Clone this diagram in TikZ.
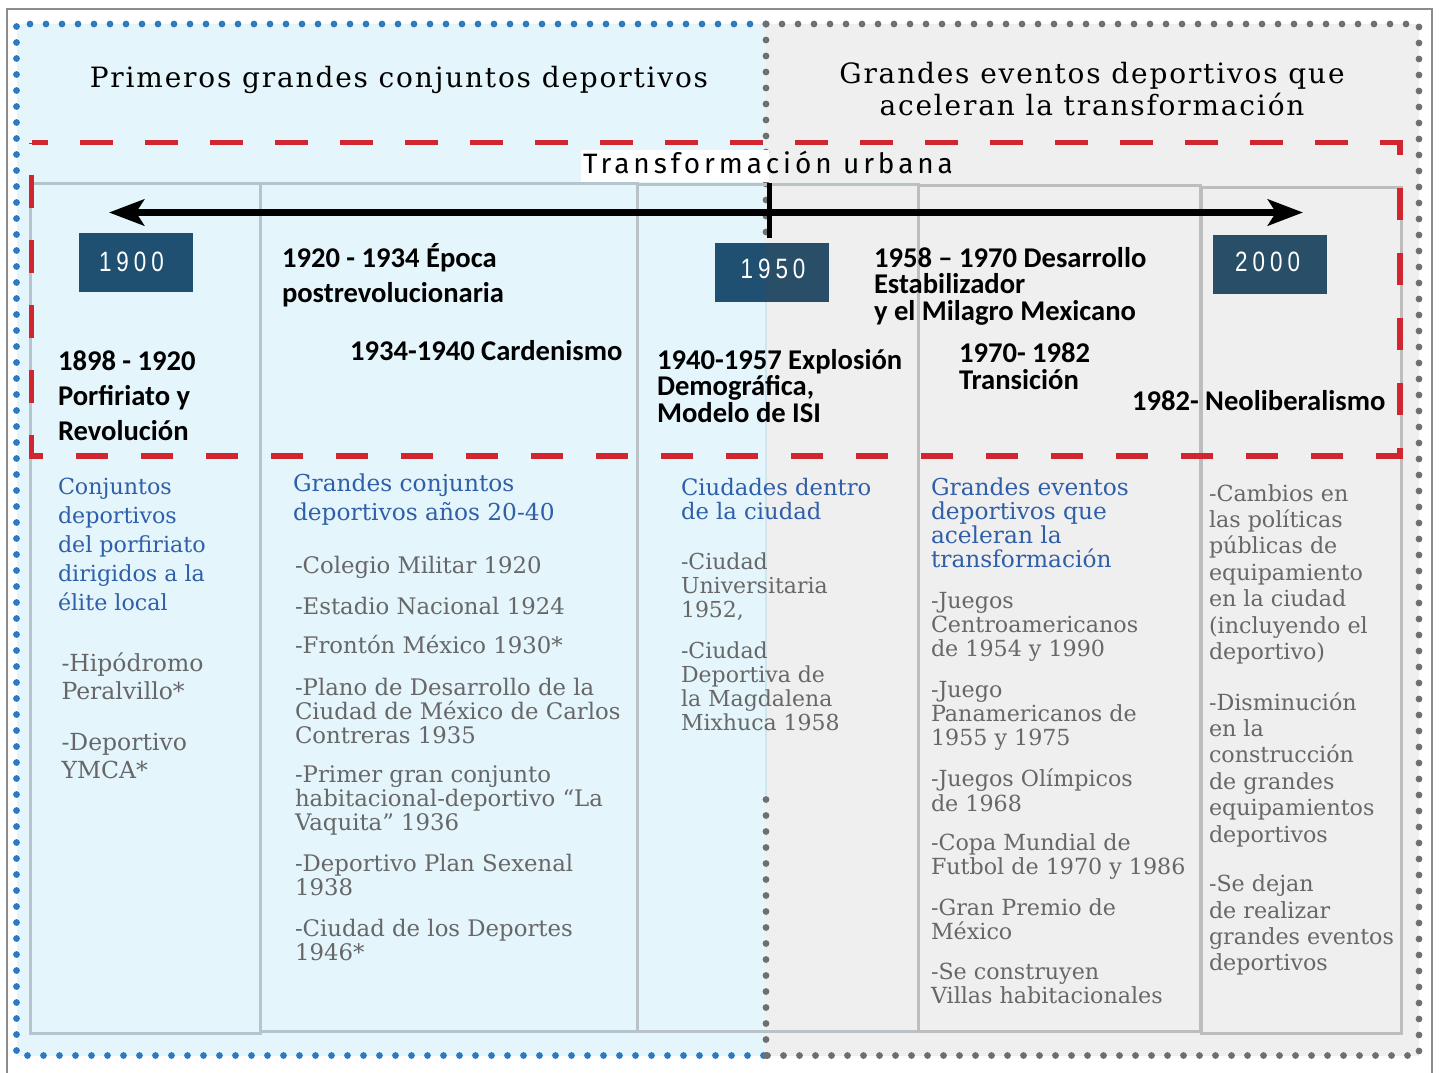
\documentclass[tikz,border=0pt]{standalone}
\usepackage{fontspec}
\usetikzlibrary{arrows.meta}
\newfontfamily\bodyfont{DejaVu Serif}
\newfontfamily\hdrfont[LetterSpace=6.5]{DejaVu Serif}
\newfontfamily\tufont[LetterSpace=14]{Fira Sans}
\newfontfamily\yrfont[FakeStretch=0.8,LetterSpace=18]{Liberation Sans}
\newfontfamily\lblfont{Carlito}
\definecolor{panelblue}{HTML}{E4F5FC}
\definecolor{panelgray}{HTML}{EFEFEF}
\definecolor{dotblue}{HTML}{2E79C0}
\definecolor{dotgray}{HTML}{6F6F6F}
\definecolor{framegray}{HTML}{8C8C8C}
\definecolor{colblue}{HTML}{B4C5CD}
\definecolor{colmix}{HTML}{B9C2C6}
\definecolor{colgray}{HTML}{BDBDBD}
\definecolor{reddash}{HTML}{D1262F}
\definecolor{yearblue}{HTML}{1F5071}
\definecolor{yeargray}{HTML}{294E68}
\definecolor{headblue}{HTML}{2E5FA8}
\definecolor{bodygray}{HTML}{676767}
\definecolor{faintline}{HTML}{D3E5EC}
\newcommand\TL[1]{\vtop{\lineskiplimit=-1000pt\lineskip=0pt\halign{##\hfil\cr#1\crcr}}}
\newcommand\TC[1]{\vtop{\lineskiplimit=-1000pt\lineskip=0pt\halign{\hfil##\hfil\cr#1\crcr}}}
\tikzset{
  frame/.style={draw=framegray, line width=1pt},
  dotsblue/.style={draw=dotblue, line width=3.4pt, line cap=round, dash pattern=on 0pt off 8pt},
  dotsgray/.style={draw=dotgray, line width=3.4pt, line cap=round, dash pattern=on 0pt off 8pt},
  colb/.style={draw=colblue, line width=1.5pt},
  colm/.style={draw=colmix, line width=1.5pt},
  colg/.style={draw=colgray, line width=1.5pt},
  reddashed/.style={draw=reddash, line width=2.75pt, dash pattern=on 16.25pt off 16.25pt, dash phase=8.125pt},
  timeline/.style={draw=black, line width=3.5pt, {Stealth[length=17.5pt,width=13pt,inset=4pt]}-{Stealth[length=17.5pt,width=13pt,inset=4pt]}},
  ticksty/.style={draw=black, line width=2.5pt},
  yearbox/.style={fill=#1, inner sep=0pt, minimum width=57pt, minimum height=29.5pt},
  yeartxt/.style={anchor=base, inner sep=0pt, text=white, font=\yrfont\fontsize{14}{16}\selectfont},
  hdr/.style={anchor=base, inner sep=0pt, font=\hdrfont\fontsize{14}{15.85}\selectfont},
  tulabel/.style={anchor=base, inner sep=0pt, font=\tufont\fontsize{14}{16}\selectfont},
  txt/.style={anchor=base west, inner sep=0pt, outer sep=0pt},
  lbl/.style={txt, font=\lblfont\bfseries\fontsize{14.3}{#1}\selectfont},
  lbl/.default=17.5,
  c1h/.style={txt, text=headblue, font=\bodyfont\fontsize{11.1}{14.55}\selectfont},
  c1b/.style={txt, text=bodygray, font=\bodyfont\fontsize{11.75}{14.15}\selectfont},
  c2h/.style={txt, text=headblue, font=\bodyfont\fontsize{11.65}{14.15}\selectfont},
  c2b/.style={txt, text=bodygray, font=\bodyfont\fontsize{11.4}{12}\selectfont},
  c3h/.style={txt, text=headblue, font=\bodyfont\fontsize{11.35}{12.15}\selectfont},
  c3b/.style={txt, text=bodygray, font=\bodyfont\fontsize{11}{12}\selectfont},
  c4h/.style={txt, text=headblue, font=\bodyfont\fontsize{11.65}{12}\selectfont},
  c4b/.style={txt, text=bodygray, font=\bodyfont\fontsize{11.1}{12.15}\selectfont},
  c5b/.style={txt, text=bodygray, font=\bodyfont\fontsize{11.1}{13.2}\selectfont},
}
\begin{document}
\begin{tikzpicture}[x=0.5pt,y=-0.5pt]
\useasboundingbox (0,0) rectangle (1439,1072);
\clip (0,0) rectangle (1439,1072);
% outer frame and panels
\draw[frame] (6.5,8.5) rectangle (1432,1090);
\fill[panelblue] (16.5,24) rectangle (766,1055.5);
\fill[panelgray] (766,24) rectangle (1419,1055.5);
\draw[faintline, line width=0.75pt] (766,300) -- (766,795);
\draw[dotsblue] (766,24) -- (16.5,24) -- (16.5,1055.5) -- (766,1055.5);
\draw[dotsgray] (766,24) -- (1419,24) -- (1419,1055.5) -- (766,1055.5);
\draw[dotsgray] (766,24) -- (766,240);
\draw[dotsgray] (766,1055.5) -- (766,790);
% columns
\draw[colb] (30,183.5) rectangle (260,1033);
\draw[colb] (260,183.5) rectangle (637,1031.5);
\draw[colm] (637,184) rectangle (918,1031.5);
\draw[colg] (918,185.5) rectangle (1200.5,1031.5);
\draw[colg] (1201.5,187) rectangle (1401,1033);
% headers
\node[hdr] (h1) at (399,87) {Primeros grandes conjuntos deportivos};
\node[hdr] (h2) at (1092,83.5) {\TC{Grandes eventos deportivos que\cr aceleran la transformación}};
% label of the red frame
\fill[white] (581,150) rectangle (769,182);
\node[tulabel] (tu) at (768,173.3) {Transformación urbana};
\draw[reddashed] (31.5,142.5) -- (1400,142.5) -- (1400,456) -- (31.5,456) -- cycle;
% timeline
\coordinate (aL) at (109,212.5);
\coordinate (aR) at (1303,212.5);
\draw[timeline] (aL) -- (aR);
\coordinate (tk1) at (769.5,183);
\coordinate (tk2) at (769.5,238);
\draw[ticksty] (tk1) -- (tk2);
% year boxes
\node[yearbox=yearblue] (b1900) at (135.5,262.2) {};
\node[yearbox=yearblue] (b1950) at (771.5,272.8) {};
\fill[yeargray] (766,243.3) rectangle (828.5,302.3);
\node[yearbox=yeargray] (b2000) at (1270,264.7) {};
\node[yeartxt] (t1900) at (131.5,271.7) {1900};
\node[yeartxt] (t1950) at (773,278) {1950};
\node[yeartxt] (t2000) at (1267.5,271) {2000};
% period labels
\node[lbl=17.65] (p1) at (58,370) {\TL{1898 - 1920\cr Porfiriato y\cr Revolución}};
\node[lbl=17.85] (p2) at (282,267) {\TL{1920 - 1934 Época\cr postrevolucionaria}};
\node[lbl] (p3) at (350,360) {1934-1940 Cardenismo};
\node[lbl=13.3] (p4) at (657,369) {\TL{1940-1957 Explosión\cr Demográfica,\cr Modelo de ISI}};
\node[lbl=13.2] (p5) at (874,267.3) {\TL{1958 – 1970 Desarrollo\cr Estabilizador\cr y el Milagro Mexicano}};
\node[lbl=13.35] (p6) at (959,362.3) {\TL{1970- 1982\cr Transición}};
\node[lbl] (p7) at (1132,410) {1982- Neoliberalismo};
% column 1
\node[c1h] (c1t) at (58,494.3) {\TL{Conjuntos\cr deportivos\cr del porfiriato\cr dirigidos a la\cr élite local}};
\node[c1b] (c1a) at (61.5,671) {\TL{-Hipódromo\cr Peralvillo*}};
\node[c1b] (c1c) at (61.5,750) {\TL{-Deportivo\cr YMCA*}};
% column 2
\node[c2h] (c2t) at (293,491.7) {\TL{Grandes conjuntos\cr deportivos años 20-40}};
\node[c2b] (c2a) at (295,573.3) {-Colegio Militar 1920};
\node[c2b] (c2b) at (295,614.3) {-Estadio Nacional 1924};
\node[c2b] (c2c) at (295,653.3) {-Frontón México 1930*};
\node[c2b] (c2d) at (295,695) {\TL{-Plano de Desarrollo de la\cr Ciudad de México de Carlos\cr Contreras 1935}};
\node[c2b] (c2e) at (295,782.7) {\TL{-Primer gran conjunto\cr habitacional-deportivo “La\cr Vaquita” 1936}};
\node[c2b] (c2f) at (295,871.7) {\TL{-Deportivo Plan Sexenal\cr 1938}};
\node[c2b] (c2g) at (295,936.7) {\TL{-Ciudad de los Deportes\cr 1946*}};
% column 3
\node[c3h] (c3t) at (681,495) {\TL{Ciudades dentro\cr de la ciudad}};
\node[c3b] (c3a) at (681,569.3) {\TL{-Ciudad\cr Universitaria\cr 1952,}};
\node[c3b] (c3b) at (681,658.3) {\TL{-Ciudad\cr Deportiva de\cr la Magdalena\cr Mixhuca 1958}};
% column 4
\node[c4h] (c4t) at (931,495.7) {\TL{Grandes eventos\cr deportivos que\cr aceleran la\cr transformación}};
\node[c4b] (c4a) at (931,608.3) {\TL{-Juegos\cr Centroamericanos\cr de 1954 y 1990}};
\node[c4b] (c4b) at (931,697.3) {\TL{-Juego\cr Panamericanos de\cr 1955 y 1975}};
\node[c4b] (c4c) at (931,786.7) {\TL{-Juegos Olímpicos\cr de 1968}};
\node[c4b] (c4d) at (931,850) {\TL{-Copa Mundial de\cr Futbol de 1970 y 1986}};
\node[c4b] (c4e) at (931,915) {\TL{-Gran Premio de\cr México}};
\node[c4b] (c4f) at (931,979.3) {\TL{-Se construyen\cr Villas habitacionales}};
% column 5
\node[c5b] (c5a) at (1209,501) {\TL{-Cambios en\cr las políticas\cr públicas de\cr equipamiento\cr en la ciudad\cr (incluyendo el\cr deportivo)}};
\node[c5b] (c5b) at (1209,710) {\TL{-Disminución\cr en la\cr construcción\cr de grandes\cr equipamientos\cr deportivos}};
\node[c5b] (c5c) at (1209,891.7) {\TL{-Se dejan\cr de realizar\cr grandes eventos\cr deportivos}};
\end{tikzpicture}
\end{document}
